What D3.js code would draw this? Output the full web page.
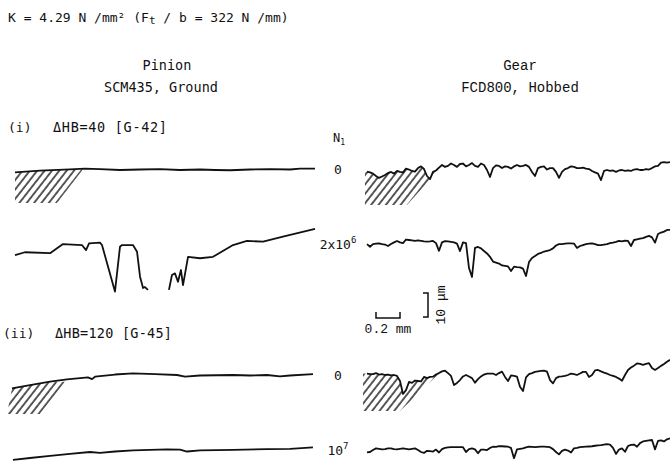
<!DOCTYPE html>
<html>
<head>
<meta charset="utf-8">
<script src="https://cdn.jsdelivr.net/npm/d3@7"></script>
<style>
  body { margin: 0; background: #fff; }
  svg text { fill: #111; }
  .sans { font-family: "DejaVu Sans Mono", monospace; }
  .serif { font-family: "Liberation Mono", "Courier New", monospace; }
  .profile { fill: none; stroke: #111; stroke-width: 1.8; stroke-linejoin: round; }
</style>
</head>
<body>
<svg id="chart" width="670" height="461"></svg>
<script>

// profiles of the pinion: [position along profile (mm), height (um)]
var PINION_1 = [[0,-1.0],[0.208,-0.3],[0.458,0.3],[0.583,0.6],[0.708,0.4],[0.875,0],[1.042,0.2],[1.208,0.4],
  [1.375,0],[1.542,0.2],[1.667,0],[1.792,-0.1],[1.958,0.2],[2.125,0.4],[2.292,0.2],[2.375,0.6],[2.5,0.6]];

// null = stylus lost the surface (gap in trace)
var PINION_2 = [[0,-6.3],[0.083,-5.1],[0.292,-5.5],[0.4,-1.7],[0.558,-2.1],[0.592,-4.2],[0.617,-1.4],[0.708,-1.1],
  [0.725,-2.1],[0.833,-21.5],[0.875,-2.8],[0.892,-2.1],[0.983,-2.1],[1.017,-4.9],[1.042,-15.3],[1.067,-20],
  [1.083,-19.6],[1.108,-20.8],[1.2,null],[1.283,-20.8],[1.308,-14.6],[1.333,-13.9],[1.358,-17.4],[1.383,-12.5],
  [1.4,-18.8],[1.442,-7.0],[1.542,-7.6],[1.65,-7.0],[1.817,-2.1],[1.933,-0.4],[2.067,-0.7],[2.233,1.4],[2.5,4.6]];

var PINION_3 = [[-0.025,-5.6],[0.125,-4.2],[0.292,-2.8],[0.433,-1.8],[0.608,-1.0],[0.642,-1.7],[0.667,-0.7],
  [0.833,0.2],[0.983,0.7],[1.167,0.4],[1.35,0],[1.417,-0.7],[1.542,-0.2],[1.817,0],[1.958,-0.2],[2.1,0],
  [2.208,-0.6],[2.292,-0.2],[2.483,0.4]];

var PINION_4 = [[-0.017,-8.3],[0.125,-7.5],[0.292,-6.6],[0.458,-5.8],[0.625,-5.0],[0.708,-5.4],[0.833,-4.8],
  [0.983,-4.3],[1.125,-4.1],[1.267,-3.9],[1.375,-4.0],[1.433,-4.8],[1.542,-4.3],[1.817,-4.1],[2.1,-3.8],
  [2.292,-3.7],[2.483,-3.1]];

// profiles of the gear: heights (um) sampled every GEAR_STEP mm
var GEAR_STEP = 0.025;

var GEAR_1 = [-0.7,-1.0,-1.5,-2.5,-3.3,-2.7,-2.1,-1.3,-0.8,-1.5, -0.4,-0.8,-1.0,0.6,0.2,-0.4,-0.7,0.8,1.5,0.4,
  -2.5,-3.8,-0.8,-0.2,1.0,2.1,1.3,1.7,2.7,2.1, 1.3,2.5,2.7,1.5,2.1,2.9,1.7,1.3,2.7,2.1,
  0,-2.9,0.8,1.9,1.7,0.8,1.5,1.3,0.6,1.5, 2.1,1.5,1.7,2.1,1.3,-0.8,-2.5,0.8,1.3,1.5,
  0.2,0.8,0.8,-0.8,-3.3,-0.8,0.4,0.8,1.5,1.3, 0.8,0.8,1.0,0.6,0.4,-0.4,-1.0,-1.5,-4.2,-0.4,
  0,-0.4,-0.2,-0.8,-0.2,0,-0.4,-0.2,-0.4,0.2, 0.4,0,0,0.4,0.2,0.8,1.5,1.7,3.1,3.3, 3.1,3.3];

var GEAR_2 = [-1.7,-2.8,-1.7,-1.5,-1.4,-1.7,-1.9,-2.5,-1.7,-1.0, -0.4,-1.0,-1.3,0.2,0,-0.2,-0.4,-0.2,-0.4,-0.6,
  -0.7,-0.6,-0.4,-1.3,-4.5,-1.0,-0.5,-0.6,-0.8,-1.0, -1.5,-4.6,-1.0,-1.3,-11.7,-15.4,-3.3,-2.9,-3.5,-4.6,
  -5.6,-7.0,-9.0,-9.4,-9.8,-10.6,-10.8,-11.0,-12.9,-11.1, -11.3,-11.4,-11.9,-15.0,-9.2,-7.5,-6.7,-5.8,-5.4,-4.8,
  -4.5,-4.2,-3.5,-2.3,-1.7,-1.7,-1.5,-1.4,-1.4,-1.5, -3.3,-2.5,-2.1,-1.7,-1.5,-1.4,-1.7,-2.1,-2.1,-1.9,
  -1.7,-1.3,-1.1,-0.8,-0.4,-0.6,-0.3,-0.4,-2.5,0, 0.3,0.6,0.8,1.3,1.7,1.1,-1.1,2.5,3.1,3.5, 4.2,4.2];

var GEAR_3 = [0.6,0.4,0.4,0.8,0.2,0.4,0,0.2,-0.2,0, -0.4,-2.5,-7.9,-6.3,-2.9,-3.3,-2.3,-2.5,-2.7,-0.8,
  -1.3,-0.8,-0.7,0.2,0.8,1.5,1.8,0.8,-0.4,-4.2, -3.3,-2.1,-0.6,0,-0.6,-1.3,-3.2,-1.7,-0.6,0.2,
  0.6,0.6,0.6,0,0.8,1.4,-0.8,-2.5,-0.2,-0.4, -0.7,-4.9,-6.7,-1.0,0.4,0.8,1.3,1.5,1.7,1.8,
  1.4,-2.1,-3.5,-1.3,-0.7,-0.6,-0.4,0,0.6,0.4, 0,0.6,1.3,1.3,-0.8,0,1.9,2.1,1.5,1.0,
  0.6,0,-0.4,-0.8,-1.5,-2.4,0,2.1,3.1,3.9, 4.8,4.6,4.2,4.6,4.9,2.9,2.1,2.9,3.8,4.6, 5.5,6.3];

var GEAR_4 = [-5.2,-5.0,-4.2,-3.5,-3.7,-3.9,-3.8,-3.5,-3.5,-3.8, -3.9,-3.7,-3.5,-3.7,-3.9,-3.7,-3.5,-4.2,-5.0,-5.4,
  -4.5,-4.6,-4.8,-4.0,-5.2,-3.8,-3.3,-3.1,-3.0,-3.0, -3.0,-3.0,-3.0,-5.0,-3.8,-3.5,-3.9,-5.5,-4.0,-4.0,
  -4.2,-3.3,-2.8,-2.9,-2.6,-2.6,-2.7,-2.8,-3.3,-7.6, -3.9,-3.7,-3.5,-3.1,-2.8,-2.9,-3.0,-2.9,-2.8,-2.8,
  -2.9,-3.0,-3.8,-5.0,-6.0,-4.5,-4.0,-4.4,-5.2,-3.5, -3.3,-3.0,-2.9,-2.8,-2.7,-2.6,-2.4,-2.2,-2.1,-1.9,
  -1.7,-1.9,-3.3,-5.8,-4.0,-3.5,-4.9,-2.5,-2.0,-1.9, -2.8,-1.3,-0.6,-0.4,-0.2,0,-3.9,-0.4,-0.2,-0.6, 0.3,0.7];

// number of cycles N1 for each trace row
var CYCLES = [["0", ""], ["2x10", "6"], ["0", ""], ["10", "7"]];

// hatched tooth-tip regions (mm / um): row, panel, top from-to, bottom from-to, depth
var HATCHES = [
  {panel: "pinion", row: 0, from: 0,      to: 0.567, bottomFrom: 0,      bottomTo: 0.35,  depth: -13.75},
  {panel: "pinion", row: 2, from: -0.025, to: 0.417, bottomFrom: -0.067, bottomTo: 0.208, depth: -16.25},
  {panel: "gear",   row: 0, from: -0.017, to: 0.592, bottomFrom: -0.017, bottomTo: 0.333, depth: -14.6},
  {panel: "gear",   row: 2, from: -0.033, to: 0.592, bottomFrom: -0.033, bottomTo: 0.275, depth: -15}
];

var SCALE_X_MM = 0.2;   // horizontal scale bar
var SCALE_Y_UM = 10;    // vertical scale bar

function init(){

  var svg = d3.select("#chart");

  //row baselines (px) and px per 10 um
  var rowBase = [170, 240, 375, 440];
  var labelY  = [174, 249, 380, 455];
  var umPx = 24;

  var xPinion = d3.scaleLinear().domain([0, 2.5]).range([15, 315]);
  var xGear   = d3.scaleLinear().domain([0, 2.5]).range([367, 667]);

  var yRow = rowBase.map(function(b){
    return d3.scaleLinear().domain([0, 10]).range([b, b - umPx]);
  });

  var pinion = [PINION_1, PINION_2, PINION_3, PINION_4];
  var gear = [GEAR_1, GEAR_2, GEAR_3, GEAR_4].map(function(arr){
    return arr.map(function(v, i){ return [i * GEAR_STEP, v]; });
  });

  //hatch pattern
  svg.append("defs").append("pattern")
      .attr("id", "hatch")
      .attr("patternUnits", "userSpaceOnUse")
      .attr("width", 5.8)
      .attr("height", 10)
      .attr("patternTransform", "rotate(38)")
    .append("line")
      .attr("x1", 1).attr("x2", 1)
      .attr("y1", -1).attr("y2", 11)
      .attr("stroke", "#000")
      .attr("stroke-width", 1.3);

  function lineFor(x, y){
    return d3.line()
      .defined(function(d){ return d[1] !== null; })
      .x(function(d){ return x(d[0]); })
      .y(function(d){ return y(d[1]); });
  }

  //hatched areas under the tip of each profile
  HATCHES.forEach(function(h){
    var x = h.panel === "pinion" ? xPinion : xGear;
    var prof = h.panel === "pinion" ? pinion[h.row] : gear[h.row];
    var pts = prof.filter(function(d){ return d[1] !== null && d[0] >= h.from && d[0] <= h.to; });
    if (pts[0][0] > h.from) pts.unshift([h.from, pts[0][1]]);
    pts.push([h.to, pts[pts.length - 1][1]]);
    pts.push([h.bottomTo, h.depth]);
    pts.push([h.bottomFrom, h.depth]);
    svg.append("path")
      .attr("d", lineFor(x, yRow[h.row])(pts) + "Z")
      .attr("fill", "url(#hatch)");
  });

  //profiles
  pinion.forEach(function(p, i){
    svg.append("path").attr("class", "profile").attr("d", lineFor(xPinion, yRow[i])(p));
  });
  gear.forEach(function(p, i){
    svg.append("path").attr("class", "profile").attr("d", lineFor(xGear, yRow[i])(p));
  });

  //N1 labels
  CYCLES.forEach(function(c, i){
    var t = svg.append("text").attr("class", "sans")
      .attr("x", 338).attr("y", labelY[i])
      .attr("text-anchor", "middle")
      .style("font-size", "13px")
      .text(c[0]);
    if (c[1]) t.append("tspan").attr("dy", -6).style("font-size", "9px").text(c[1]);
  });

  var n1 = svg.append("text").attr("class", "sans").attr("x", 333).attr("y", 142).style("font-size", "12px").text("N");
  n1.append("tspan").attr("dy", 3).style("font-size", "8px").text("1");

  //title
  var title = svg.append("text").attr("class", "sans").attr("x", 8).attr("y", 22).style("font-size", "13px")
    .text("K = 4.29 N /mm\u00b2 (F");
  title.append("tspan").attr("dy", 2).style("font-size", "11px").text("t");
  title.append("tspan").attr("dy", -2).text(" / b = 322 N /mm)");

  //column headings
  svg.append("text").attr("class", "sans").attr("x", 167).attr("y", 70).attr("text-anchor", "middle")
    .style("font-size", "13.5px").text("Pinion");
  svg.append("text").attr("class", "sans").attr("x", 161).attr("y", 92).attr("text-anchor", "middle")
    .style("font-size", "13.5px").text("SCM435, Ground");
  svg.append("text").attr("class", "serif").attr("x", 520).attr("y", 70).attr("text-anchor", "middle")
    .style("font-size", "14px").text("Gear");
  svg.append("text").attr("class", "serif").attr("x", 520).attr("y", 92).attr("text-anchor", "middle")
    .style("font-size", "14px").text("FCD800, Hobbed");

  //case headings
  svg.append("text").attr("class", "sans").attr("x", 8).attr("y", 132).style("font-size", "13px").text("(i)");
  svg.append("text").attr("class", "sans").attr("x", 53).attr("y", 132).style("font-size", "13.5px")
    .attr("textLength", 114).text("\u0394HB=40 [G-42]");
  svg.append("text").attr("class", "sans").attr("x", 3).attr("y", 338).style("font-size", "13px").text("(ii)");
  svg.append("text").attr("class", "sans").attr("x", 55).attr("y", 338).style("font-size", "13.5px")
    .attr("textLength", 117).text("\u0394HB=120 [G-45]");

  //scale bars, sized through the scales
  var sbW = xGear(SCALE_X_MM) - xGear(0);
  var sbH = yRow[0](0) - yRow[0](SCALE_Y_UM);
  var sx = 376, sy = 318;
  svg.append("path")
    .attr("d", "M" + sx + "," + (sy - 6) + "V" + sy + "H" + (sx + sbW) + "V" + (sy - 6))
    .attr("fill", "none").attr("stroke", "#111").attr("stroke-width", 1.5);
  svg.append("text").attr("class", "serif").attr("x", sx + sbW / 2).attr("y", 333).attr("text-anchor", "middle")
    .style("font-size", "13px").text("0.2 mm");

  var vx = 428, vy = 293;
  svg.append("path")
    .attr("d", "M" + (vx - 5) + "," + vy + "H" + vx + "V" + (vy + sbH) + "H" + (vx - 5))
    .attr("fill", "none").attr("stroke", "#111").attr("stroke-width", 1.5);
  svg.append("text").attr("class", "serif")
    .attr("transform", "translate(445," + (vy + sbH / 2) + ") rotate(-90)")
    .attr("text-anchor", "middle")
    .style("font-size", "13px").text("10 \u03bcm");
}

window.onload = init;
</script>
</body>
</html>
